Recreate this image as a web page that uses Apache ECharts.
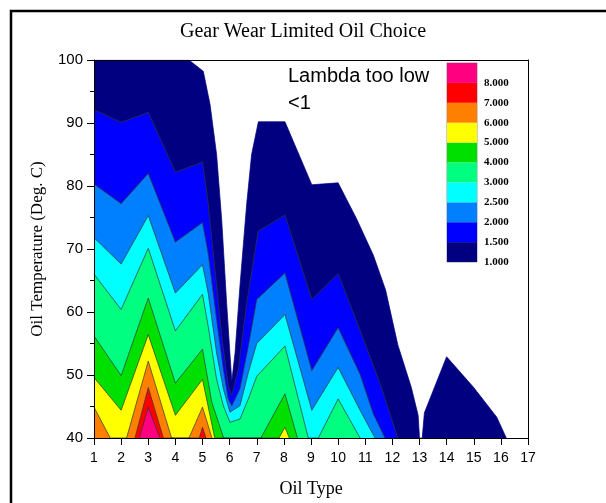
<!DOCTYPE html>
<html><head><meta charset="utf-8">
<script src="https://cdn.jsdelivr.net/npm/echarts@6/dist/echarts.min.js"></script>
<style>html,body{margin:0;padding:0;background:#fff}#c{width:606px;height:503px}</style>
</head><body><div id="c"></div>
<script>
// ---- data ----
const xTicks = [1,2,3,4,5,6,7,8,9,10,11,12,13,14,15,16,17];
const yTicks = [40,50,60,70,80,90,100];
const levelLabels = ['1.000','1.500','2.000','2.500','3.000','4.000','5.000','6.000','7.000','8.000'];
const levelColors = ['#000080','#0000ff','#0080ff','#00ffff','#00ff80','#00e000','#ffff00','#ff8000','#ff0000','#ff0080'];

// upper boundary (Oil Temperature) of the region where lambda >= level, as [oil type, temperature]
const c1_0 = [[1,100],[2,100],[3,100],[4,100],[4.5,100],[5.03,98.2],[5.28,92.9],[5.52,85],[5.71,74.5],[5.89,61.4],[6.01,53.5],[6.08,49],[6.2,53.5],[6.38,64.1],[6.63,77.2],[6.81,85],[7.06,90.2],[8.04,90.2],[9.03,80.2],[10,80.5],[10.68,74.8],[11.3,69],[11.75,63.5],[12.2,54.8],[12.7,48],[12.95,43.6],[13,40],[13.1,40],[13.18,44],[14,52.9],[15,48],[15.85,43.3],[16.2,40]];
const c1_5 = [[1,92.1],[2,90.1],[3,91.7],[4,82.2],[5,83.8],[5.21,77.2],[5.46,66.7],[5.71,56.2],[5.95,48.3],[6.08,46.8],[6.32,50.9],[6.63,61.4],[7.05,72.8],[8.04,75.4],[9.03,62],[10,66.1],[10.8,57.2],[11.55,48.6],[12.2,40]];
const c2_0 = [[1,80.3],[2,77.2],[3,82],[4,71.1],[5,74.2],[5.21,69.3],[5.52,58.8],[5.77,50.9],[5.95,46.2],[6.08,45.1],[6.38,47.8],[6.69,54.6],[7,62],[8.04,66.2],[9.03,50.7],[10,57.5],[10.81,50.1],[11.3,43.8],[11.73,40]];
const c2_5 = [[1,71.8],[2,67.6],[3,75.3],[4,63],[5,67.5],[5.21,63],[5.52,53.5],[5.77,47.8],[6.01,44.1],[6.38,45.1],[6.69,50.4],[7,55],[8.04,59.6],[9.03,44.4],[10,51.2],[10.81,44.4],[11.36,40]];
const c3_0 = [[1,66],[2,60.4],[3,70.1],[4,57],[5,62.8],[5.21,57.7],[5.52,49.3],[5.77,45.1],[6.01,42.5],[6.38,43],[6.69,46.2],[7,49.8],[8.04,54.6],[8.9,40],[9.27,40],[10,46.2],[10.81,40]];
const c4_0 = [[1,56.2],[2,49.9],[3,62.2],[4,48.7],[5,54.1],[5.34,45.7],[5.78,40],[7.15,40],[8.04,47],[8.5,40]];
const c5_0 = [[1,49.6],[2,44.4],[3,56.4],[4,43.6],[5,49.3],[5.45,40],[7.82,40],[8.04,41.7],[8.2,40]];
const c6_0 = [[1,44.9],[1.6,40],[2.2,40],[3,52.2],[3.86,40],[4.5,40],[5,44.9],[5.35,40]];
const c7_0 = [[2.51,40],[3,48],[3.56,40],[4.88,40],[5,41.7],[5.13,40]];
const c8_0 = [[2.67,40],[3,44.9],[3.43,40]];
const levelCurves = [c1_0,c1_5,c2_0,c2_5,c3_0,c4_0,c5_0,c6_0,c7_0,c8_0];
const keyBlock = [1];

// ---- chart ----
const chart = echarts.init(document.getElementById('c'), null, {renderer:'canvas'});
const SANS = '"Liberation Sans", Arial, sans-serif';
const SERIF = '"Liberation Serif", "Times New Roman", serif';

const contourSeries = levelCurves.map((d, i) => ({
  type: 'line', xAxisIndex: 0, yAxisIndex: 0, data: d,
  symbol: 'none', silent: true, z: 2,
  lineStyle: { color: i === 0 ? levelColors[0] : '#333', width: 0.7 },
  areaStyle: { color: levelColors[i], opacity: 1, origin: 'start' }
}));
const keySeries = levelColors.map((c) => ({
  type: 'bar', xAxisIndex: 2, yAxisIndex: 2, stack: 'key', data: keyBlock,
  barWidth: '100%', silent: true, itemStyle: { color: c }
}));

chart.setOption({
  animation: false,
  backgroundColor: '#fff',
  title: {
    text: 'Gear Wear Limited Oil Choice', left: 'center', top: 17,
    textStyle: { fontFamily: SERIF, fontSize: 20, fontWeight: 'normal', color: '#000' }
  },
  grid: [
    { left: 94, top: 60, width: 434, height: 381 },
    { left: 447, top: 63, width: 30, height: 199, show: true, borderColor: '#999', borderWidth: 1 }
  ],
  xAxis: [
    { type: 'value', gridIndex: 0, min: xTicks[0], max: xTicks[xTicks.length-1], interval: 1, z: 10,
      name: 'Oil Type', nameLocation: 'middle', nameGap: 42,
      nameTextStyle: { fontFamily: SERIF, fontSize: 18, color: '#000' },
      axisLine: { lineStyle: { color: '#000', width: 1 } },
      axisTick: { length: 7, lineStyle: { color: '#000' } },
      axisLabel: { fontFamily: SANS, fontSize: 14, color: '#000', margin: 13 },
      splitLine: { show: false } },
    { type: 'value', gridIndex: 0, position: 'top', min: xTicks[0], max: xTicks[xTicks.length-1], z: 10,
      axisLine: { show: true, onZero: false, lineStyle: { color: '#000', width: 1 } },
      axisTick: { show: false }, axisLabel: { show: false }, splitLine: { show: false } },
    { type: 'category', gridIndex: 1, data: [''], show: false }
  ],
  yAxis: [
    { type: 'value', gridIndex: 0, min: yTicks[0], max: yTicks[yTicks.length-1], interval: 10, z: 10,
      name: 'Oil Temperature (Deg. C)', nameLocation: 'middle', nameGap: 48, nameRotate: 90,
      nameTextStyle: { fontFamily: SERIF, fontSize: 17, color: '#000' },
      axisLine: { show: true, lineStyle: { color: '#000', width: 1 } },
      axisTick: { show: true, length: 7, lineStyle: { color: '#000' } },
      minorTick: { show: true, splitNumber: 2, length: 4, lineStyle: { color: '#000' } },
      axisLabel: { fontFamily: SANS, fontSize: 15, color: '#000', margin: 11 },
      splitLine: { show: false } },
    { type: 'value', gridIndex: 0, position: 'right', min: yTicks[0], max: yTicks[yTicks.length-1], z: 10,
      axisLine: { show: true, onZero: false, lineStyle: { color: '#000', width: 1 } },
      axisTick: { show: false }, axisLabel: { show: false }, splitLine: { show: false } },
    { type: 'value', gridIndex: 1, position: 'right', min: 0, max: levelLabels.length, interval: 1,
      axisLine: { show: false }, axisTick: { show: false }, splitLine: { show: false },
      axisLabel: { fontFamily: SERIF, fontSize: 11, fontWeight: 'bold', color: '#000', margin: 7, padding: [6,0,0,0],
        formatter: (v) => levelLabels[v] !== undefined ? levelLabels[v] : '' } }
  ],
  graphic: [
    { type: 'text', left: 288, top: 66, z: 20,
      style: { text: 'Lambda too low', font: '20px "Liberation Sans", Arial, sans-serif', fill: '#000' } },
    { type: 'text', left: 288, top: 93, z: 20,
      style: { text: '<1', font: '20px "Liberation Sans", Arial, sans-serif', fill: '#000' } },
    { type: 'rect', z: 30, silent: true,
      shape: { x: 11, y: 11, width: 640, height: 540 },
      style: { fill: 'none', stroke: '#000', lineWidth: 2.5 } }
  ],
  series: contourSeries.concat(keySeries)
});
</script></body></html>
